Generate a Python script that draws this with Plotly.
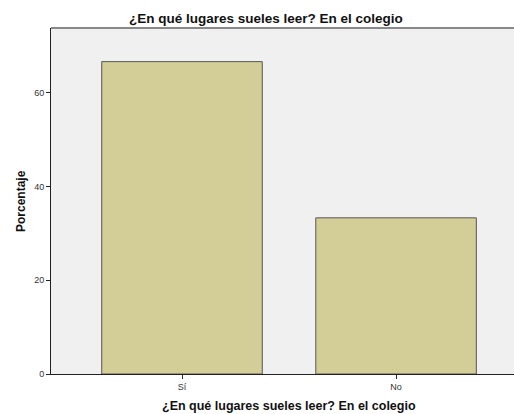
import plotly.graph_objects as go

categorias = ["Sí", "No"]
porcentaje = [66.67, 33.33]
y_ticks = [0, 20, 40, 60]
titulo = "¿En qué lugares sueles leer? En el colegio"

fig = go.Figure(go.Bar(
    x=categorias, y=porcentaje, width=0.75,
    marker=dict(color="#D3CE97", line=dict(color="#555555", width=1)),
))

fig.update_layout(
    width=514, height=414,
    margin=dict(l=51, r=0, t=28, b=40),
    paper_bgcolor="white", plot_bgcolor="#F0F0F0",
    font=dict(family="Liberation Sans, Arial, sans-serif", color="#222222"),
    showlegend=False,
)
fig.update_xaxes(
    range=[-0.612, 1.551], showgrid=False, zeroline=False,
    showline=True, linecolor="#222222", linewidth=1,
    ticks="outside", ticklen=4, tickcolor="#222222",
    tickfont=dict(size=9, color="#333333"),
)
fig.update_yaxes(
    range=[0, 73.85], tickvals=y_ticks, showgrid=False, zeroline=False,
    showline=True, linecolor="#222222", linewidth=1,
    ticks="outside", ticklen=4, tickcolor="#222222",
    tickfont=dict(size=9, color="#333333"),
)
# borde superior gris
fig.add_shape(type="line", xref="paper", yref="paper", x0=0, x1=1, y0=1, y1=1,
              line=dict(color="#888888", width=2))

fig.add_annotation(text="<b>" + titulo + "</b>", xref="paper", yref="paper",
                   x=(266 - 51) / 463, y=1, yshift=10, yanchor="middle",
                   showarrow=False, font=dict(size=13.5, color="#111111"))
fig.add_annotation(text="<b>" + titulo + "</b>", xref="x", yref="paper",
                   x=0.5, y=0, yshift=-32, yanchor="middle", showarrow=False,
                   font=dict(size=12.5, color="#111111"))
fig.add_annotation(text="<b>Porcentaje</b>", xref="paper", yref="paper",
                   x=0, xshift=-30, xanchor="center", y=0.5, textangle=-90,
                   showarrow=False, font=dict(size=12, color="#111111"))

# quitar el margen por defecto del body para que la figura ocupe toda la ventana
fig.write_html("out.html", config={"displayModeBar": False},
               post_script="document.body.style.margin='0';")
